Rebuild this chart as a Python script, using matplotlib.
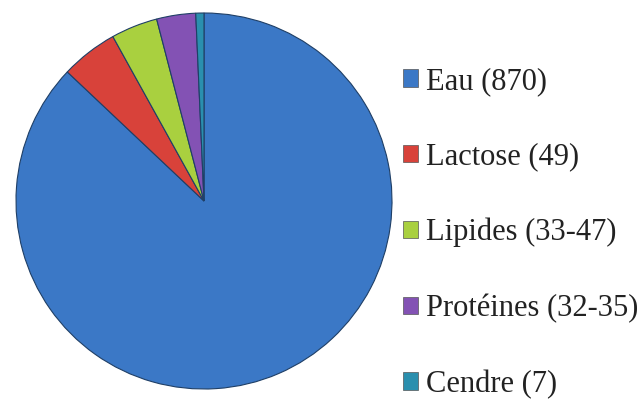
import matplotlib
matplotlib.use("Agg")
import matplotlib.pyplot as plt

# Composition du lait (g/L)
labels = ["Eau (870)", "Lactose (49)", "Lipides (33-47)", "Protéines (32-35)", "Cendre (7)"]
values = [870, 49, 40, 33.5, 7]
colors = ["#3b78c6", "#d8423a", "#a9d03f", "#8352b4", "#2a8fae"]

plt.rcParams["font.family"] = "serif"
plt.rcParams["font.serif"] = ["Liberation Serif", "DejaVu Serif"]

fig = plt.figure(figsize=(6.41, 4.01), dpi=100)
ax = fig.add_axes([16 / 641, 12 / 401, 376 / 641, 376 / 401])

wedges, _ = ax.pie(values, colors=colors, startangle=90, counterclock=False,
                   wedgeprops=dict(edgecolor="#1f3f66", linewidth=0.8))
ax.set_xlim(-1, 1)
ax.set_ylim(-1, 1)
ax.set_aspect("equal")

leg = fig.legend(wedges, labels, loc="upper left", bbox_to_anchor=(403 / 641, 1 - 67 / 401),
                 frameon=False, fontsize=22, handlelength=0.5, handleheight=0.5,
                 handletextpad=0.26, labelspacing=1.52, borderpad=0, borderaxespad=0)
for h in leg.legend_handles:
    h.set_edgecolor("#555555")
    h.set_linewidth(0.5)
for t in leg.get_texts():
    t.set_color("#222222")

fig.savefig("out.png", dpi=100)
